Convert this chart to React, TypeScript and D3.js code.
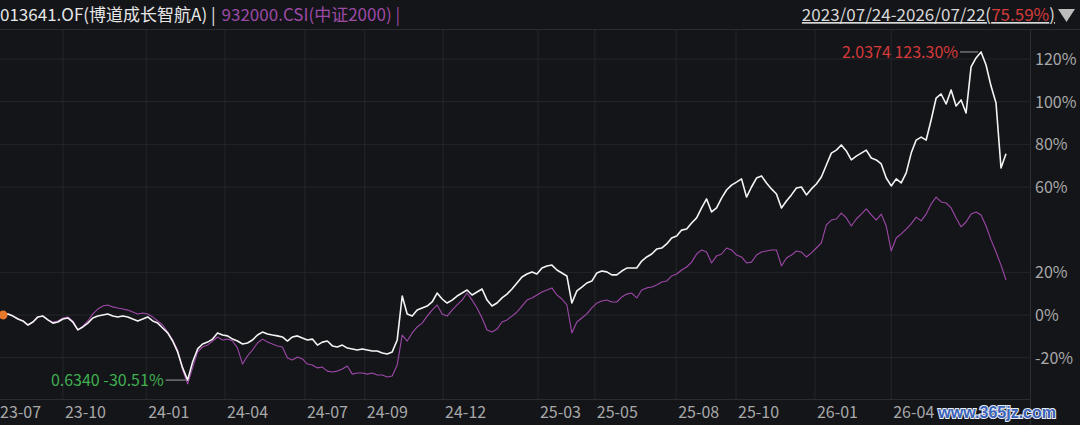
import React from 'react';
import * as d3 from 'd3';

// Cumulative return (%) of the fund, sampled at regular trading-day steps
const fundReturns: number[] = [
  0, 0.5, -0.5, -1.9, -2.8, -4.7, -3.3, -0.9, -0.5, -2.3,
  -3.8, -3.3, -1.9, -1.4, -3.3, -7.0, -5.6, -3.8, -1.4, -0.5,
  0.0, 0.5, -0.5, -0.9, -0.5, -0.9, -1.9, -2.8, -1.9, -0.9,
  -2.8, -3.8, -6.1, -8.4, -12.2, -17.3, -24.8, -30.51, -22.0, -15.9,
  -13.6, -12.7, -11.3, -8.4, -9.4, -9.8, -11.3, -12.2, -13.6, -13.1,
  -11.7, -9.4, -8.0, -8.9, -9.4, -9.8, -10.3, -12.2, -10.3, -9.8,
  -10.8, -11.7, -11.3, -14.1, -12.7, -12.2, -14.5, -15.0, -14.1, -15.5,
  -15.9, -16.4, -15.9, -16.4, -16.9, -16.9, -17.8, -18.3, -17.3, -11.7,
  8.9, 0.5, -0.5, 2.3, 3.3, 4.2, 6.1, 10.3, 7.5, 5.6,
  7.0, 8.9, 10.3, 11.7, 9.4, 10.8, 12.2, 7.0, 4.2, 5.6,
  8.0, 9.8, 12.2, 15.0, 17.8, 19.2, 20.2, 19.2, 22.0, 23.0,
  23.4, 21.1, 19.7, 18.3, 5.6, 11.3, 13.1, 15.0, 15.9, 19.7,
  20.6, 20.2, 18.8, 18.8, 20.6, 22.0, 22.0, 22.0, 25.3, 27.2,
  28.6, 30.9, 31.4, 33.3, 36.1, 37.0, 39.8, 40.3, 43.1, 45.5,
  50.2, 54.4, 48.3, 50.2, 54.8, 58.6, 60.9, 62.3, 63.8, 55.3,
  60.0, 64.2, 65.2, 61.9, 59.1, 56.7, 50.2, 53.4, 56.3, 59.5,
  60.0, 56.3, 59.1, 61.4, 64.7, 70.3, 75.9, 77.3, 79.7, 76.9,
  72.7, 74.5, 75.9, 77.3, 73.6, 72.7, 70.8, 64.2, 60.5, 63.8,
  61.9, 66.6, 75.9, 82.0, 83.4, 82.0, 91.4, 101.7, 103.6, 98.9,
  105.5, 98.0, 100.8, 94.7, 116.3, 120.5, 123.30, 117.2, 107.3, 99.4,
  68.9, 75.59,
];

// Cumulative return (%) of the CSI 2000 index, same sampling
const indexReturns: number[] = [
  0, 0.5, -0.5, -1.9, -2.8, -4.7, -3.3, -0.9, -0.5, -2.3,
  -3.3, -2.8, -1.4, -0.9, -2.8, -7.0, -5.2, -2.8, 0.5, 2.8,
  4.2, 4.7, 3.8, 3.3, 2.8, 2.3, 1.4, 0.5, 0.9, 0.5,
  -0.9, -2.8, -4.7, -8.0, -11.7, -16.4, -25.8, -32.3, -24.8, -17.3,
  -15.0, -14.1, -12.2, -10.3, -11.7, -11.3, -12.2, -15.5, -23.0, -19.2,
  -16.4, -13.1, -11.3, -12.7, -13.6, -14.5, -15.0, -20.2, -21.1, -19.7,
  -20.6, -23.0, -23.4, -24.8, -24.4, -26.3, -26.7, -26.3, -25.3, -23.9,
  -27.7, -27.2, -27.2, -27.7, -27.2, -28.1, -28.1, -29.1, -28.6, -23.4,
  -9.4, -12.2, -8.4, -5.6, -3.8, -0.5, 2.3, 4.7, 0.5, -0.5,
  2.3, 4.7, 7.0, 10.3, 7.0, 3.3, -1.4, -7.0, -8.0, -6.6,
  -3.3, -2.3, -0.5, 1.4, 4.2, 7.0, 8.0, 9.4, 10.8, 11.7,
  12.7, 9.4, 7.5, 4.7, -8.4, -3.3, -1.4, 0.5, 3.3, 5.6,
  6.6, 7.0, 6.1, 6.1, 8.4, 9.8, 10.3, 8.0, 11.7, 12.7,
  13.1, 14.1, 15.5, 15.9, 18.3, 19.2, 21.1, 22.5, 24.8, 28.6,
  30.5, 29.5, 24.4, 27.7, 28.6, 31.4, 30.5, 28.1, 27.2, 24.4,
  24.8, 28.1, 29.5, 30.0, 30.5, 30.5, 23.0, 26.7, 28.1, 30.0,
  29.5, 27.2, 29.1, 31.4, 33.8, 42.2, 44.5, 45.0, 47.8, 45.5,
  41.7, 45.0, 47.3, 49.7, 46.9, 44.5, 47.3, 41.7, 30.0, 36.1,
  38.0, 40.3, 42.7, 45.9, 44.1, 47.3, 52.0, 55.3, 53.0, 52.5,
  50.2, 45.5, 41.3, 43.6, 47.3, 48.3, 46.9, 41.7, 35.2, 29.5,
  23.4, 16.4,
];

// Month-start positions (in sample steps) and their labels
const xTickPositions: number[] = [-0.6, 12.4, 29.1, 44.9, 60.9, 72.9, 88.6, 107.6, 119.0, 135.3, 147.3, 163.1, 178.4];
const xTickLabels: string[] = ['23-07', '23-10', '24-01', '24-04', '24-07', '24-09', '24-12', '25-03', '25-05', '25-08', '25-10', '26-01', '26-04'];
const yTickValues: number[] = [120, 100, 80, 60, 20, 0, -20];

const fundName = '013641.OF(博道成长智航A) |';
const indexName = '932000.CSI(中证2000) |';
const periodText = '2023/07/24-2026/07/22(';
const periodReturn = '75.59%';
const maxNav = '2.0374';
const minNav = '0.6340';
const watermark = 'www.365jz.com';

export default function App() {
  const W = 1080;
  const H = 425;
  const n = fundReturns.length;
  const x = d3.scaleLinear().domain([0, n - 1]).range([3, 1006]);
  const y = d3.scaleLinear().domain([0, 120]).range([315, 59]);
  const line = d3
    .line<number>()
    .x((_, i) => x(i))
    .y((d) => y(d));
  const maxI = d3.maxIndex(fundReturns);
  const minI = d3.minIndex(fundReturns);
  const maxV = fundReturns[maxI];
  const minV = fundReturns[minI];
  const font = '"Noto Sans CJK SC", "Noto Sans", sans-serif';
  const grid = '#24262b';

  return (
    <svg
      width={W}
      height={H}
      style={{ position: 'absolute', left: 0, top: 0, display: 'block' }}
      fontFamily={font}
    >
      <rect width={W} height={H} fill="#141519" />

      {/* grid */}
      {yTickValues.map((t) => (
        <line key={'gy' + t} x1={0} x2={1030} y1={y(t)} y2={y(t)} stroke={grid} strokeWidth={1} />
      ))}
      {xTickPositions.map((t, i) => (
        <line key={'gx' + i} x1={x(t) - 2} x2={x(t) - 2} y1={30} y2={399} stroke={grid} strokeWidth={1} />
      ))}
      <line x1={0} x2={W} y1={29.5} y2={29.5} stroke="#2a2c31" />
      <line x1={0} x2={1030} y1={399.5} y2={399.5} stroke="#2a2c31" />
      <line x1={1030.5} x2={1030.5} y1={30} y2={H} stroke="#2a2c31" />

      {/* series */}
      <path d={line(indexReturns) ?? ''} fill="none" stroke="#9e48a8" strokeWidth={1.1} strokeLinejoin="round" />
      <path d={line(fundReturns) ?? ''} fill="none" stroke="#f4f4f4" strokeWidth={1.6} strokeLinejoin="round" />

      {/* start marker */}
      <circle cx={x(0)} cy={y(fundReturns[0])} r={4.5} fill="#e8772e" />

      {/* max annotation */}
      <line x1={x(maxI) - 21} x2={x(maxI) - 3} y1={y(maxV)} y2={y(maxV)} stroke="#a0a0a0" strokeWidth={1} />
      <text x={x(maxI) - 23} y={y(maxV) + 6} textAnchor="end" fontSize={16} fill="#d63a3a">
        {maxNav} {maxV.toFixed(2)}%
      </text>

      {/* min annotation */}
      <line x1={x(minI) - 22} x2={x(minI) - 2} y1={y(minV)} y2={y(minV)} stroke="#a0a0a0" strokeWidth={1} />
      <text x={x(minI) - 24} y={y(minV) + 6} textAnchor="end" fontSize={16} fill="#3fae4f">
        {minNav} {minV.toFixed(2)}%
      </text>

      {/* y axis labels */}
      {yTickValues.map((t) => (
        <text key={'ly' + t} x={1035} y={y(t) + 6} fontSize={16} fill="#a8a8a8">
          {t}%
        </text>
      ))}

      {/* x axis labels */}
      {xTickPositions.map((t, i) => (
        <text key={'lx' + i} x={Math.max(0, x(t))} y={418} fontSize={16} fill="#a8a8a8">
          {xTickLabels[i]}
        </text>
      ))}

      {/* header */}
      <text x={0} y={21} fontSize={17}>
        <tspan fill="#e6e6e6">{fundName}</tspan>
        <tspan fill="#9c4aa6" dx={6}>{indexName}</tspan>
      </text>
      <text x={1055} y={21} fontSize={17} textAnchor="end" fill="#d8d8d8" textDecoration="underline">
        <tspan>{periodText}</tspan>
        <tspan fill="#d43b3b">{periodReturn}</tspan>
        <tspan>)</tspan>
      </text>
      <path d="M1058,9 L1075,9 L1066.5,22 Z" fill="#bdbdbd" />

      {/* watermark */}
      <text
        x={1056}
        y={418}
        textAnchor="end"
        fontFamily='"Liberation Sans", Arial, sans-serif'
        fontWeight="bold"
        fontSize={16}
        fill="#3a62b8"
        stroke="#e9eef8"
        strokeWidth={2}
        paintOrder="stroke"
      >
        {watermark}
      </text>
    </svg>
  );
}
